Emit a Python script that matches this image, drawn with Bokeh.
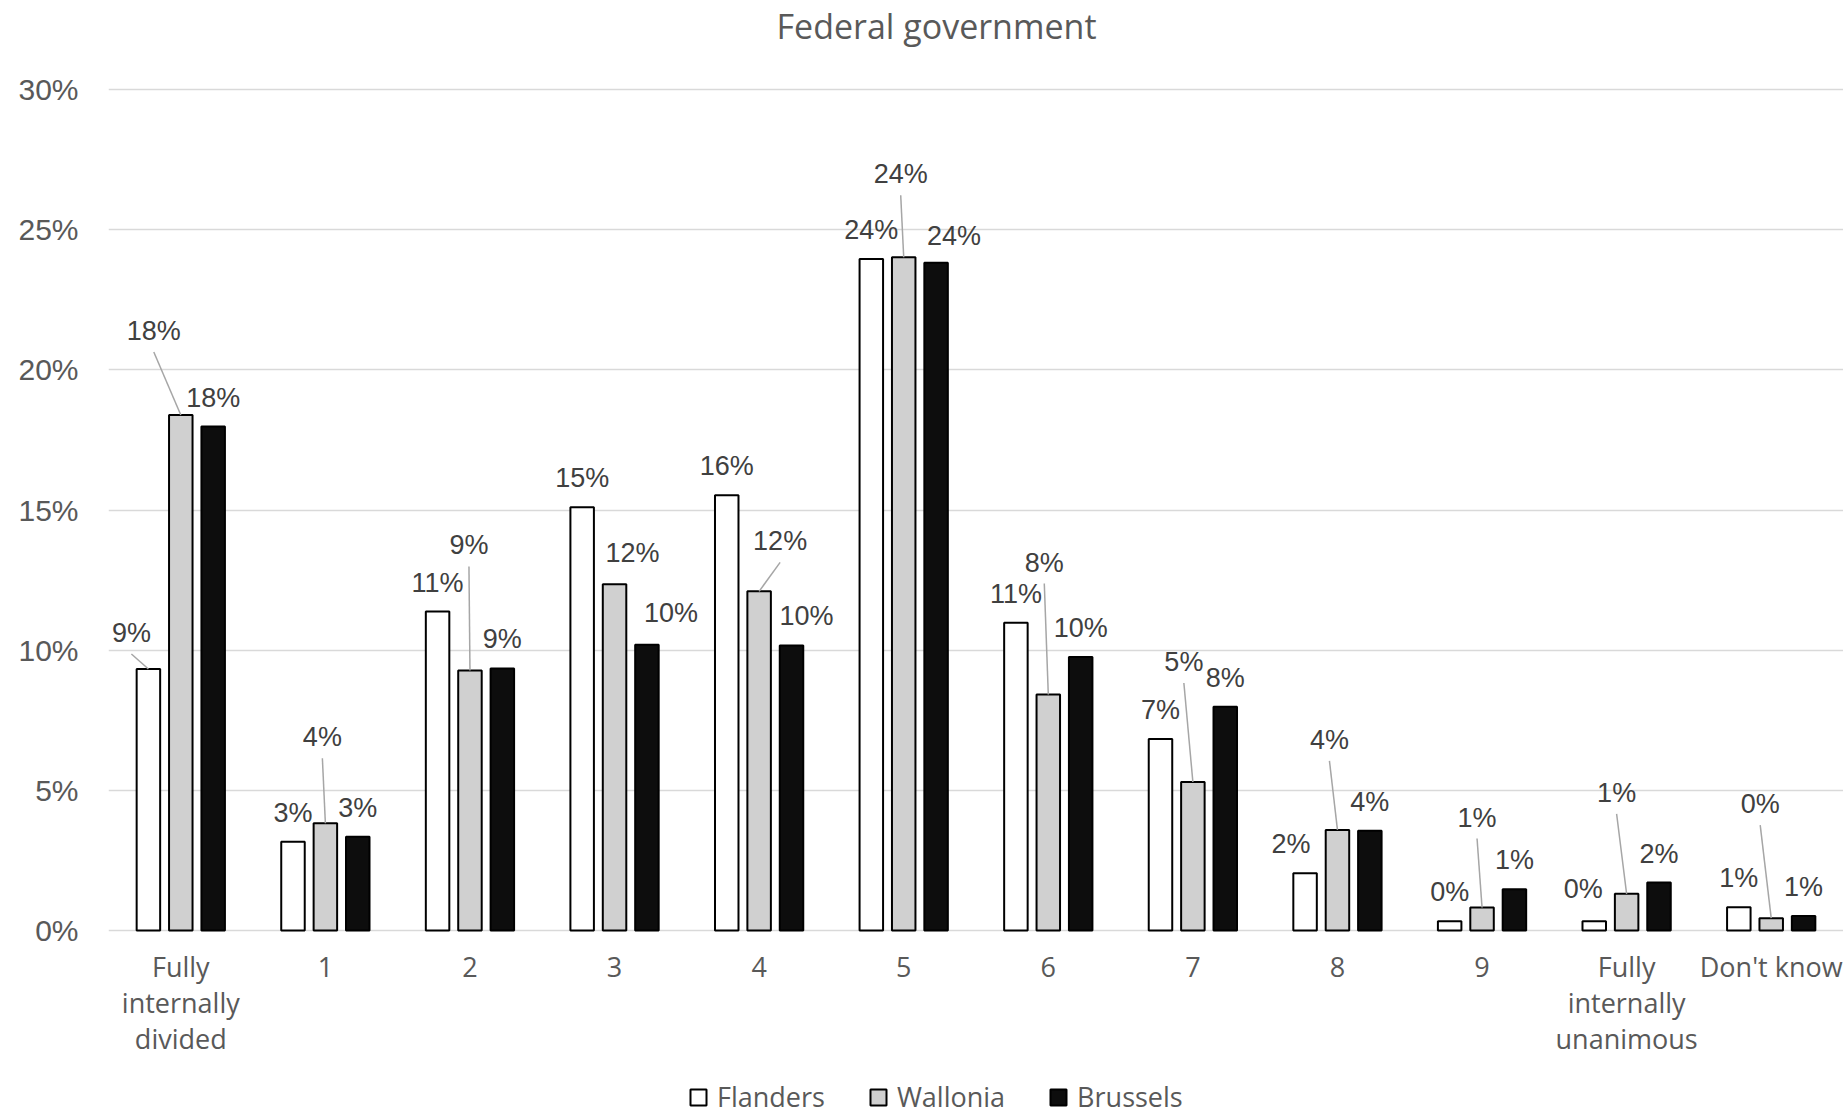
import numpy as np
from bokeh.plotting import figure
from bokeh.layouts import column
from bokeh.models import ColumnDataSource, Range1d, FixedTicker, Legend, LegendItem, Label
from bokeh.embed import file_html
from bokeh.resources import INLINE
from bokeh.core.properties import value

# ---------------- data ----------------
TITLE = "Federal government"
CATEGORIES = ["Fully\ninternally\ndivided", "1", "2", "3", "4", "5", "6", "7", "8", "9",
              "Fully\ninternally\nunanimous", "Don't know"]
SERIES = ["Flanders", "Wallonia", "Brussels"]
FLANDERS = [9.33, 3.17, 11.38, 15.10, 15.53, 23.96, 10.98, 6.83, 2.04, 0.33, 0.33, 0.83]
WALLONIA = [18.39, 3.83, 9.28, 12.35, 12.10, 24.02, 8.42, 5.30, 3.59, 0.82, 1.31, 0.44]
BRUSSELS = [17.98, 3.35, 9.35, 10.20, 10.17, 23.82, 9.76, 7.98, 3.56, 1.47, 1.71, 0.52]
Y_TICKS = [0, 5, 10, 15, 20, 25, 30]
Y_TICK_LABELS = ["0%", "5%", "10%", "15%", "20%", "25%", "30%"]

# ---------------- styling / layout ----------------
COLORS = ["#ffffff", "#d0d0d0", "#0d0d0d"]
# label shifts (px, right / down) relative to default position above bar
FLANDERS_SHIFT = [(-17, -7), (0, 0), (0, 0), (0, 0), (0, 0), (0, 0), (0, 0), (0, 0), (-14, 0), (0, 0), (-11, -3), (0, 0)]
WALLONIA_SHIFT = [(-27, -55), (-3, -57), (-1, -96), (18, -2), (21, -21), (-3, -54), (-4, -103), (-9, -91),
                  (-8, -61), (-5, -61), (-10, -72), (-11, -85)]
BRUSSELS_SHIFT = [(0, 0), (0, 0), (0, 0), (24, -3), (15, 0), (18, 2), (0, 0), (0, 0), (0, 0), (0, 0), (0, 0), (0, 0)]
FLANDERS_LEADER = [True] + [False] * 11
WALLONIA_LEADER = [True, True, True, False, True, True, True, True, True, True, True, True]
BRUSSELS_LEADER = [False] * 12

FRAME_W, FRAME_H = 1735, 932
MB_LEFT, MB_BOTTOM = 108, 126
LEG_W, LEG_H = 1843, 55
X0, X1 = -0.5, len(CATEGORIES) - 0.5
Y0, Y1 = -0.07, 33.18
PX_X = FRAME_W / (X1 - X0)
PX_Y = FRAME_H / (Y1 - Y0)

PITCH = 0.224
BAR_W = 0.1625
OFFSETS = [-PITCH, 0.0, PITCH]
DEFAULT_LABEL_PX = 29
LEADER_START_PX = 21

p = figure(frame_width=FRAME_W, frame_height=FRAME_H, output_backend="svg",
           toolbar_location=None, title=None,
           x_range=Range1d(X0, X1), y_range=Range1d(Y0, Y1),
           min_border_left=MB_LEFT, min_border_right=0,
           min_border_top=0, min_border_bottom=MB_BOTTOM)
p.outline_line_color = None
p.background_fill_color = "white"
p.border_fill_color = "white"

p.xgrid.grid_line_color = None
p.ygrid.grid_line_color = "#d9d9d9"
p.ygrid.grid_line_width = 1.5

p.yaxis.ticker = FixedTicker(ticks=Y_TICKS)
p.yaxis.major_label_overrides = {t: l for t, l in zip(Y_TICKS, Y_TICK_LABELS)}
p.yaxis.axis_line_color = None
p.yaxis.major_tick_line_color = None
p.yaxis.minor_tick_line_color = None
p.yaxis.major_tick_out = 0
p.yaxis.major_tick_in = 0
p.yaxis.major_label_standoff = 30
p.yaxis.major_label_text_font = "Liberation Sans"
p.yaxis.major_label_text_font_size = "30px"
p.yaxis.major_label_text_color = "#595959"

p.xaxis.ticker = FixedTicker(ticks=list(range(len(CATEGORIES))))
p.xaxis.major_label_overrides = {i: c for i, c in enumerate(CATEGORIES)}
p.xaxis.axis_line_color = None
p.xaxis.major_tick_line_color = None
p.xaxis.minor_tick_line_color = None
p.xaxis.major_tick_out = 0
p.xaxis.major_tick_in = 0
p.xaxis.major_label_standoff = 15
p.xaxis.major_label_text_font = "Open Sans"
p.xaxis.major_label_text_font_size = "27px"
p.xaxis.major_label_text_color = "#595959"
p.xaxis.major_label_text_line_height = 0.985

all_vals = [FLANDERS, WALLONIA, BRUSSELS]
all_shift = [FLANDERS_SHIFT, WALLONIA_SHIFT, BRUSSELS_SHIFT]
all_leader = [FLANDERS_LEADER, WALLONIA_LEADER, BRUSSELS_LEADER]

lx, ly, lt = [], [], []
sx0, sy0, sx1, sy1 = [], [], [], []
for s, (vals, shifts, leaders) in enumerate(zip(all_vals, all_shift, all_leader)):
    xs = [i + OFFSETS[s] for i in range(len(vals))]
    src = ColumnDataSource(dict(x=xs, top=vals))
    p.vbar(x="x", top="top", bottom=0, width=BAR_W, source=src,
           fill_color=COLORS[s], line_color="black", line_width=2)
    for x, v, (dx, dy), lead in zip(xs, vals, shifts, leaders):
        tx = x + dx / PX_X
        ty = v + (DEFAULT_LABEL_PX - dy) / PX_Y
        lx.append(tx)
        ly.append(ty)
        lt.append(f"{int(v + 0.5)}%")
        if lead:
            sx0.append(tx)
            sy0.append(ty - LEADER_START_PX / PX_Y)
            sx1.append(x)
            sy1.append(v)

p.segment(x0=sx0, y0=sy0, x1=sx1, y1=sy1, line_color="#a6a6a6", line_width=1.5)
p.text(x=lx, y=ly, text=lt, text_align="center", text_baseline="middle",
       text_font=value("Liberation Sans"), text_font_size="27px", text_color="#404040")

title = Label(x=X0 + (936 - MB_LEFT) / PX_X, y=Y1 - 25 / PX_Y, text=TITLE, text_align="center",
              text_baseline="alphabetic", text_font="Open Sans", text_font_size="34px",
              text_color="#595959")
p.add_layout(title)

# ---------------- legend strip ----------------
lg = figure(width=LEG_W, height=LEG_H, output_backend="svg", toolbar_location=None, title=None,
            x_range=Range1d(0, LEG_W - MB_LEFT), y_range=Range1d(0, LEG_H),
            x_axis_type=None, y_axis_type=None,
            min_border_left=MB_LEFT, min_border_right=0, min_border_top=0, min_border_bottom=0)
lg.outline_line_color = None
lg.xgrid.visible = False
lg.ygrid.visible = False
leg_renderers = []
for s in range(len(SERIES)):
    # swatch-only renderers (NaN data: nothing drawn in the strip itself)
    src = ColumnDataSource(dict(x=np.array([np.nan]), top=np.array([np.nan])))
    leg_renderers.append(lg.vbar(x="x", top="top", bottom=0, width=1, source=src,
                                 fill_color=COLORS[s], line_color="black", line_width=2))
legend = Legend(items=[LegendItem(label=n, renderers=[r]) for n, r in zip(SERIES, leg_renderers)],
                orientation="horizontal", location=(688 - MB_LEFT, 0),
                glyph_width=20, glyph_height=20, label_standoff=9, spacing=43,
                padding=0, margin=0, border_line_color=None, background_fill_alpha=0,
                label_text_font="Open Sans", label_text_font_size="27px",
                label_text_color="#595959")
lg.add_layout(legend)

layout = column(p, lg, spacing=0)
open("out.html", "w").write(file_html(layout, INLINE))
